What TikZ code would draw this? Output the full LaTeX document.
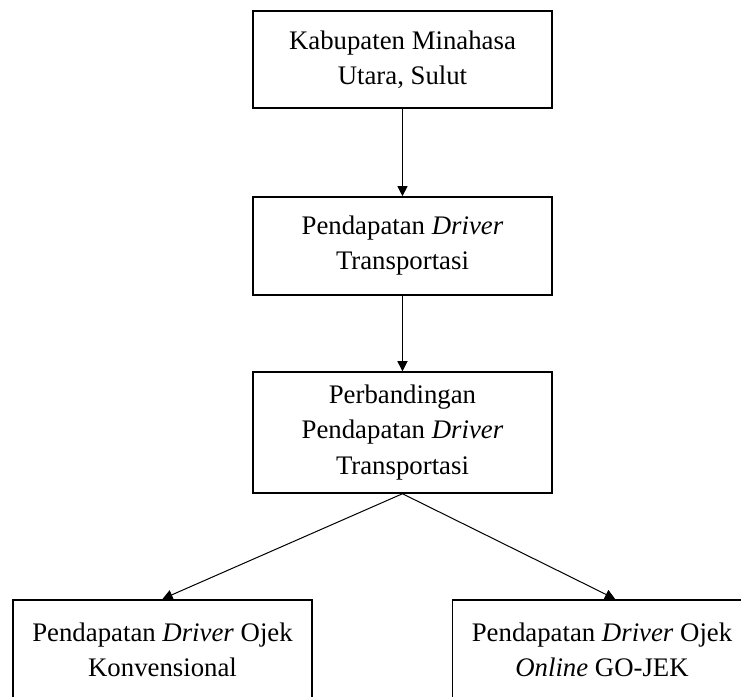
\documentclass[tikz,border=0pt]{standalone}
\usepackage{fontspec}
\setmainfont{Liberation Serif}
\usetikzlibrary{arrows.meta}

\tikzstyle{block} = [draw, text centered, align = center, minimum width = 4.71cm, inner sep = 0pt, line width = 0.8pt, font = \fontsize{12}{15.7}\selectfont]
\tikzstyle{arrow} = [-{Triangle[length=4.5pt,width=4.5pt]}, line width = 0.45pt]

\begin{document}
\begin{tikzpicture}
		\useasboundingbox (0, 0) rectangle (11.667, -10.974);
		\clip (0, 0) rectangle (11.667, -10.974);
		\node [block, minimum height = 1.53cm] at (6.337, -0.937) (1) {Kabupaten Minahasa\\Utara, Sulut};
		\node [block, minimum height = 1.54cm] at (6.337, -3.873) (2) {Pendapatan \textit{Driver}\\Transportasi};
		\node [block, minimum height = 1.90cm] at (6.337, -6.81) (3) {Perbandingan\\Pendapatan \textit{Driver}\\Transportasi};
		\node [block, minimum height = 1.58cm] at (2.559, -10.234) (4) {Pendapatan \textit{Driver} Ojek\\Konvensional};
		\node [block, minimum height = 1.58cm] at (9.479, -10.234) (5) {Pendapatan \textit{Driver} Ojek\\\textit{Online} GO-JEK};
		
  		\draw [arrow] (1) -- (2);
  		\draw [arrow] (2) -- (3);
  		\draw [arrow] (3.south) -- (4.north);
  		\draw [arrow] (3.south) -- ([xshift=0.205cm]5.north);
	\end{tikzpicture}
\end{document}
